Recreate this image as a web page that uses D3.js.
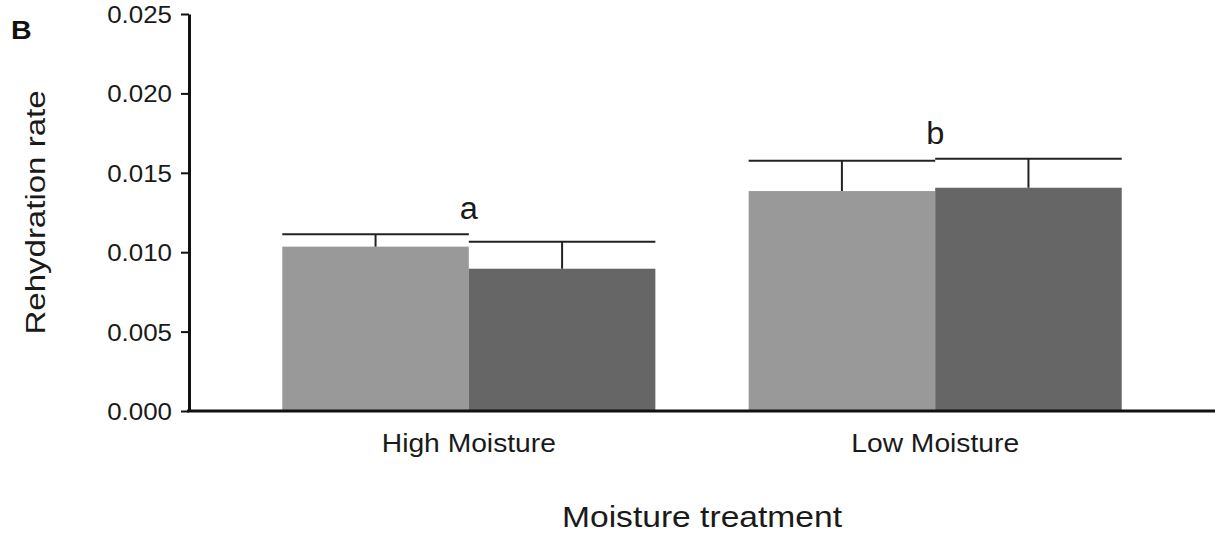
<!DOCTYPE html>
<html>
<head>
<meta charset="utf-8">
<script src="https://cdn.jsdelivr.net/npm/d3@7"></script>
<style>
  body { margin: 0; background: #fff; }
  text { font-family: "Liberation Sans", Arial, sans-serif; fill: #1a1a1a; }
</style>
</head>
<body>
<div id="chart"></div>
<script>
const categories = ['High Moisture', 'Low Moisture'];
const series = ['light', 'dark'];
const meanValues = [
  [0.01035, 0.00896],
  [0.01385, 0.01406],
];
const upperValues = [
  [0.01113, 0.01066],
  [0.01576, 0.01589],
];
const groupLetters = ['a', 'b'];
const yTicks = [0, 0.005, 0.01, 0.015, 0.02, 0.025];

const width = 1215;
const height = 537;
const margin = { top: 14, right: 0, bottom: 126, left: 189 };

const colors = d3.scaleOrdinal().domain(series).range(['#999999', '#666666']);

const x = d3
  .scaleBand()
  .domain(categories)
  .range([margin.left, width - margin.right])
  .paddingInner(0.2)
  .paddingOuter(0.2);

const xSub = d3.scaleBand().domain(series).range([0, x.bandwidth()]);

const y = d3
  .scaleLinear()
  .domain([0, 0.025])
  .range([height - margin.bottom, margin.top]);

const svg = d3
  .select('#chart')
  .append('svg')
  .attr('width', width)
  .attr('height', height)
  .attr('viewBox', [0, 0, width, height]);

// stretched text helper: the reference font is wider than Arial
function label(g, str, px, py, size, sx, rot = 0) {
  return g
    .append('text')
    .attr('transform', `translate(${px},${py}) rotate(${rot}) scale(${sx},1)`)
    .attr('font-size', size)
    .text(str);
}

// bars
const groups = svg
  .append('g')
  .selectAll('g')
  .data(categories)
  .join('g')
  .attr('transform', (d) => `translate(${x(d)},0)`);

const cells = (d, i) => series.map((s, j) => ({ s, v: meanValues[i][j], u: upperValues[i][j] }));

groups
  .selectAll('rect')
  .data(cells)
  .join('rect')
  .attr('x', (d) => xSub(d.s))
  .attr('y', (d) => y(d.v))
  .attr('width', xSub.bandwidth())
  .attr('height', (d) => y(0) - y(d.v))
  .attr('fill', (d) => colors(d.s));

// error bars (upper only, cap spans the bar)
const err = groups
  .selectAll('g.err')
  .data(cells)
  .join('g')
  .attr('class', 'err')
  .attr('stroke', '#222')
  .attr('stroke-width', 2);

err
  .append('line')
  .attr('x1', (d) => xSub(d.s) + xSub.bandwidth() / 2)
  .attr('x2', (d) => xSub(d.s) + xSub.bandwidth() / 2)
  .attr('y1', (d) => y(d.v))
  .attr('y2', (d) => y(d.u));

err
  .append('line')
  .attr('x1', (d) => xSub(d.s))
  .attr('x2', (d) => xSub(d.s) + xSub.bandwidth())
  .attr('y1', (d) => y(d.u))
  .attr('y2', (d) => y(d.u));

// significance letters
groups.each(function (d, i) {
  const top = d3.max(upperValues[i]);
  label(d3.select(this), groupLetters[i], x.bandwidth() / 2, y(top) - 15, 31, 1.05)
    .attr('text-anchor', 'middle');
});

// y axis
const yAxis = svg
  .append('g')
  .attr('transform', `translate(${margin.left},0)`)
  .call(d3.axisLeft(y).tickValues(yTicks).tickSize(8).tickSizeOuter(0));
yAxis.select('.domain').attr('stroke', '#111').attr('stroke-width', 3);
yAxis.selectAll('.tick line').attr('stroke', '#111').attr('stroke-width', 2);
yAxis.selectAll('.tick text').remove();
yAxis.selectAll('.tick').each(function (d) {
  label(d3.select(this), d3.format('.3f')(d), -17, 8.5, 24, 1.08).attr('text-anchor', 'end');
});

// x axis baseline
svg
  .append('line')
  .attr('x1', margin.left - 2)
  .attr('x2', width)
  .attr('y1', y(0))
  .attr('y2', y(0))
  .attr('stroke', '#111')
  .attr('stroke-width', 3);

// category labels
categories.forEach((c) => {
  label(svg, c, x(c) + x.bandwidth() / 2, 452, 25, 1.13).attr('text-anchor', 'middle');
});

// axis titles
label(svg, 'Moisture treatment', (x(categories[0]) + x(categories[1]) + x.bandwidth()) / 2, 527, 30, 1.12)
  .attr('text-anchor', 'middle');
label(svg, 'Rehydration rate', 45, y(0.0125), 28, 1.18, -90).attr('text-anchor', 'middle');

// panel letter
label(svg, 'B', 11, 39, 26, 1.1).attr('font-weight', 'bold').style('fill', '#111');
</script>
</body>
</html>
